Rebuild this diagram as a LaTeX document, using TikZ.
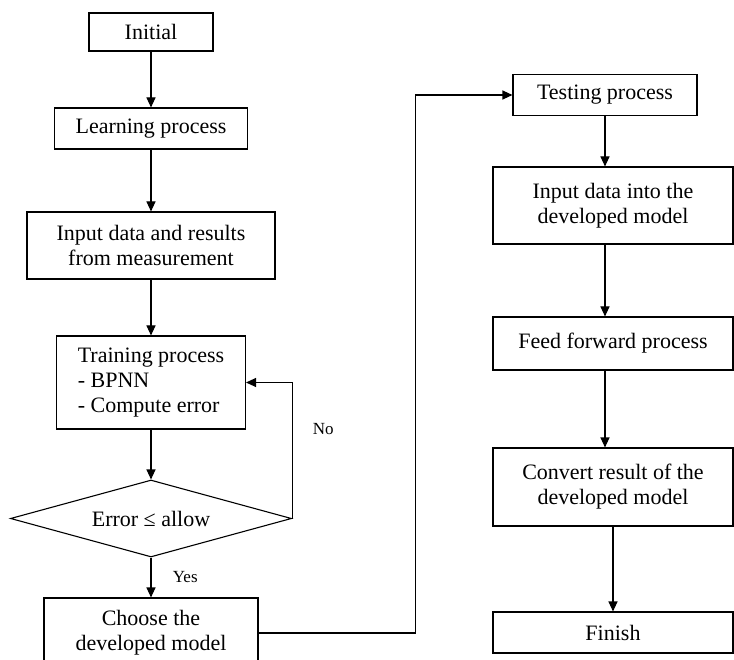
\documentclass[tikz,border=0pt]{standalone}
\usepackage{fontspec}
\setmainfont{Liberation Serif}
\usetikzlibrary{shapes.geometric,arrows.meta}

\begin{document}
\begin{tikzpicture}[->,>={Triangle[length=10pt,width=9pt]},line width=1.1pt,
                    x=1pt,y=-1pt,
                    block/.style={draw,rectangle,align=center,inner sep=2pt,
                                  font=\fontsize{22}{25}\selectfont},
                    decision/.style={draw,diamond,aspect=3.6,inner sep=0pt,
                                  minimum width=281pt,minimum height=77pt,
                                  font=\fontsize{22}{25}\selectfont},
                    answer/.style={font=\fontsize{17}{20}\selectfont}]

  \useasboundingbox (0,0) rectangle (734,660);

  % learning side
  \node[block,minimum width=124pt,minimum height=38pt] (init) at (151,32) {Initial};
  \node[block,minimum width=193pt,minimum height=41pt] (learn)
       [below of=init,node distance=96.5pt] {Learning process};
  \node[block,minimum width=248pt,minimum height=67pt] (meas)
       [below of=learn,node distance=117pt] {Input data and results\\from measurement};
  \node[block,minimum width=189pt,minimum height=93pt,align=left] (train)
       [below of=meas,node distance=137pt] {Training process\\- BPNN\\- Compute error};
  \node[decision] (err) [below of=train,node distance=136pt] {Error ≤ allow};
  \node[block,minimum width=214pt,minimum height=70pt] (choose)
       [below of=err,node distance=114.5pt] {Choose the\\developed model};

  % testing side
  \node[block,minimum width=184pt,minimum height=41pt] (test) at (605,95) {Testing process};
  \node[block,minimum width=240pt,minimum height=77pt] (feedin)
       [below of=test,node distance=110.5pt,xshift=8pt] {Input data into the\\developed model};
  \node[block,minimum width=240pt,minimum height=53pt] (fwd)
       [below of=feedin,node distance=138pt] {Feed forward process};
  \node[block,minimum width=240pt,minimum height=78pt] (conv)
       [below of=fwd,node distance=143.5pt] {Convert result of the\\developed model};
  \node[block,minimum width=240pt,minimum height=41pt] (fin)
       [below of=conv,node distance=145.5pt] {Finish};

  \coordinate (turn) at ([xshift=157pt]choose.east);

  \path (init)  edge (learn)
        (learn) edge (meas)
        (meas)  edge (train)
        (train) edge (err)
        (err)   edge node[answer,right=18pt] {Yes} (choose);

  \draw (err.east) |- node[answer,pos=0.33,right=17pt] {No} (train.east);
  \draw (choose.east) -- (turn) |- (test.west);

  \path (test) edge (test |- feedin.north)
        (feedin.south -| test) edge (test |- fwd.north)
        (fwd.south -| test) edge (test |- conv.north)
        (conv) edge (fin);
\end{tikzpicture}
\end{document}
